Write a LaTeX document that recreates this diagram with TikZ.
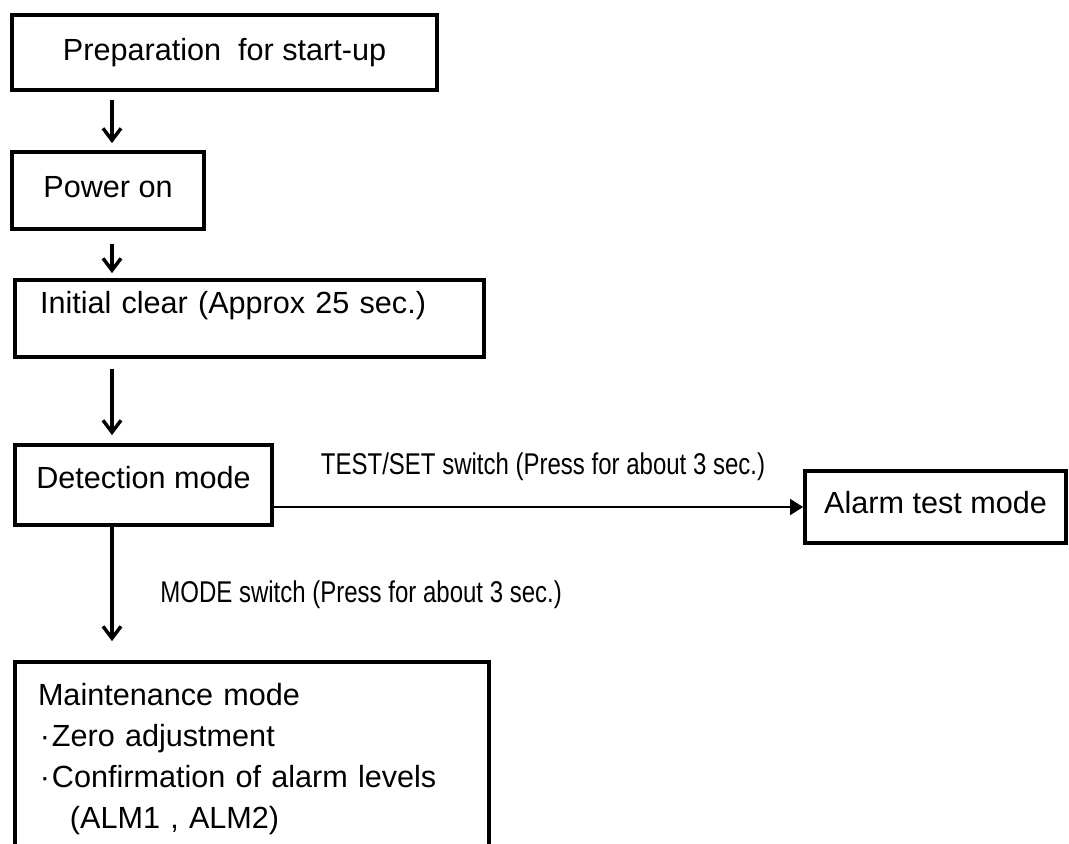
\documentclass[tikz,border=0pt]{standalone}
\usepackage{fontspec}
\setmainfont{Liberation Sans}
\newfontfamily\narrowfont[FakeStretch=0.8]{Liberation Sans}
\usetikzlibrary{arrows.meta}

\newcommand{\boxfont}{\fontsize{15.3}{20.5}\selectfont}
\newcommand{\lblfont}{\narrowfont\fontsize{15}{18}\selectfont}
\newcommand{\mdot}{\makebox[7pt]{·}}

\begin{document}
\begin{tikzpicture}[
  x=0.5pt, y=-0.5pt,
  stepbox/.style={
    rectangle, draw=black, line width=1.9pt,
    inner xsep=0pt, inner ysep=0pt, font=\boxfont
  },
  downarrow/.style={-{Straight Barb[length=6pt,width=9pt]}, line width=1.7pt},
  sidearrow/.style={-{Triangle[length=6.5pt,width=8pt]}, line width=0.85pt},
  lbl/.style={font=\lblfont, inner sep=0pt}
]
 \useasboundingbox (0,0) rectangle (1069,843);
 % column of the downward arrows
 \coordinate (col) at (112,0);

 % Boxes (pixel coordinates of the original)
 \node[stepbox, minimum width=212.5pt, text height=22.5pt, text depth=15pt]
   (prep) at (224.5,52.5) {Preparation\ \ for start-up};
 \node[stepbox, minimum width=96pt, text height=22.5pt, text depth=16pt]
   (pwr) at (108,190.5) {Power on};
 \node[stepbox, align=left, text width=209.5pt, inner xsep=12.5pt,
   text height=16.5pt, text depth=22pt]
   (init) at (249.5,318.5) {Initial clear (Approx 25 sec.)};
 \node[stepbox, minimum width=128.5pt, text height=21.5pt, text depth=18.5pt]
   (det) at (143.5,485) {Detection mode};
 \node[stepbox, minimum width=130.5pt, text height=21pt, text depth=15pt]
   (alarm) at (935.5,507) {Alarm test mode};
 \node[stepbox, align=left, text width=214pt, inner xsep=11.5pt,
   text height=21.5pt, text depth=82.5pt]
   (maint) at (252,766) {Maintenance mode\\
     \mdot Zero adjustment\\
     \mdot Confirmation of alarm levels\\
     \hspace*{16pt}(ALM1 , ALM2)};

 % Switch labels
 \node[lbl, anchor=base] (testsw) at (543,474)
   {TEST/SET switch (Press for about 3 sec.)};
 \node[lbl, anchor=base west] (modesw) at (160,602)
   {MODE switch (Press for about 3 sec.)};

 % Start-up sequence
 \draw[downarrow, shorten <=4pt, shorten >=3.5pt]
   (prep.south -| col) -- (pwr.north -| col);
 \draw[downarrow, shorten <=6.5pt, shorten >=2.5pt]
   (pwr.south -| col) -- (init.north -| col);
 \draw[downarrow, shorten <=5pt, shorten >=4pt]
   (init.south -| col) -- (det.north -| col);
 \draw[downarrow, shorten >=9.5pt]
   (det.south -| col) -- (maint.north -| col);

 % Alarm test branch
 \draw[sidearrow] (alarm.west -| det.east) -- (alarm.west);
\end{tikzpicture}
\end{document}
